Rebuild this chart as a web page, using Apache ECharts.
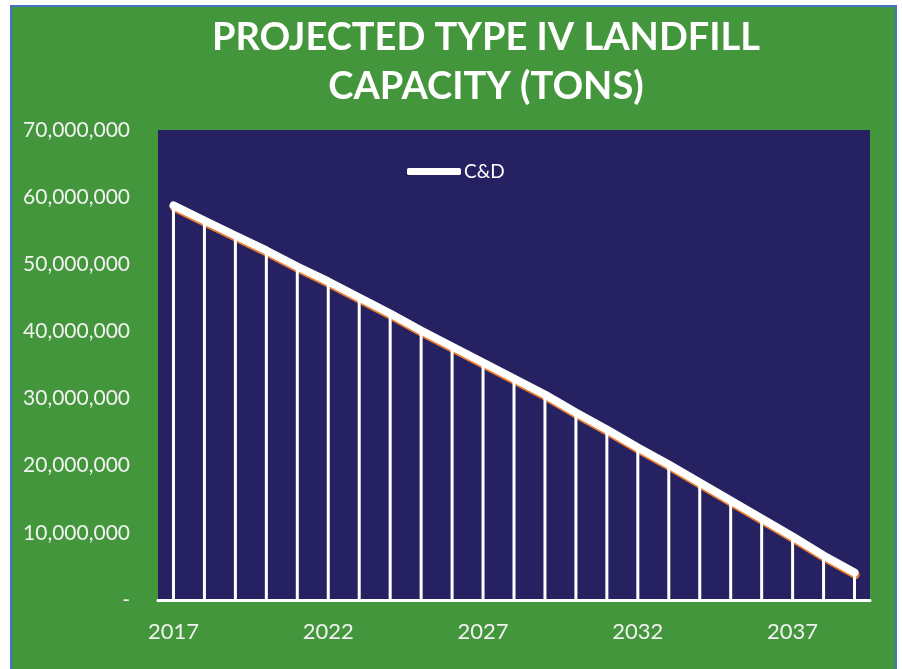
<!DOCTYPE html>
<html>
<head>
<meta charset="utf-8">
<script src="https://cdn.jsdelivr.net/npm/echarts@6/dist/echarts.min.js"></script>
<style>
  html, body { margin: 0; padding: 0; background: #ffffff; }
  .frame {
    position: absolute;
    left: 10px; top: 5px;
    width: 883px; height: 670px;
    background: #43963b;
    border: 2px solid #4472c4;
    border-bottom: none;
  }
  #chart { position: absolute; left: 0; top: 0; width: 902px; height: 669px; }
</style>
</head>
<body>
<div class="frame"></div>
<div id="chart"></div>
<script>
// 年份
const years = ['2017', '2018', '2019', '2020', '2021', '2022', '2023', '2024', '2025', '2026', '2027', '2028',
  '2029', '2030', '2031', '2032', '2033', '2034', '2035', '2036', '2037', '2038', '2039']
// C&D 剩余容量 (tons)
const capacity = [58760000, 56520000, 54290000, 52060000, 49670000, 47440000, 45050000, 42670000,
  40140000, 37760000, 35370000, 32990000, 30610000, 27930000, 25390000, 22710000, 20180000,
  17500000, 14820000, 12140000, 9460000, 6630000, 4100000]
const yTicks = [0, 10000000, 20000000, 30000000, 40000000, 50000000, 60000000, 70000000]

const chart = echarts.init(document.getElementById('chart'))

chart.setOption({
  backgroundColor: 'transparent',
  animation: false,
  title: {
    text: 'PROJECTED TYPE IV LANDFILL\nCAPACITY (TONS)',
    left: 481,
    textAlign: 'center',
    top: 8,
    textStyle: {
      color: '#ffffff',
      fontFamily: 'Lato',
      fontWeight: 'bold',
      fontSize: 38,
      lineHeight: 49
    }
  },
  legend: {
    data: ['C&D'],
    left: 402,
    top: 157,
    icon: 'roundRect',
    itemWidth: 54,
    itemHeight: 7,
    itemGap: 4,
    textStyle: { color: '#ffffff', fontFamily: 'Lato', fontSize: 19, padding: [0, 0, 0, -2] },
    itemStyle: { color: '#ffffff', shadowBlur: 0, shadowOffsetX: 0, shadowOffsetY: 0 }
  },
  grid: {
    left: 158,
    right: 32,
    top: 130,
    bottom: 69,
    show: true,
    backgroundColor: '#262262',
    borderWidth: 0
  },
  xAxis: {
    type: 'category',
    data: years,
    boundaryGap: true,
    axisLine: { lineStyle: { color: '#ffffff', width: 3 } },
    axisTick: { show: false },
    axisLabel: {
      interval: 4,
      color: '#f2f2f2',
      fontFamily: 'Lato',
      fontSize: 22,
      margin: 21
    }
  },
  yAxis: {
    type: 'value',
    min: yTicks[0],
    max: yTicks[yTicks.length - 1],
    interval: 10000000,
    splitLine: { show: false },
    axisLine: { show: false },
    axisTick: { show: false },
    axisLabel: {
      color: '#f2f2f2',
      fontFamily: 'Lato',
      fontSize: 21,
      margin: 28,
      formatter: (v) => (v === 0 ? '-' : v.toLocaleString('en-US'))
    }
  },
  series: [
    {
      name: 'C&D',
      type: 'line',
      data: capacity,
      symbol: 'none',
      z: 2,
      lineStyle: {
        color: '#ffffff',
        width: 8,
        cap: 'round',
        join: 'round',
        shadowColor: '#ed7d31',
        shadowBlur: 0,
        shadowOffsetX: 1,
        shadowOffsetY: 2.5
      },
      itemStyle: { color: '#ffffff' }
    },
    {
      // 垂直线
      name: 'Drop lines',
      type: 'bar',
      data: capacity,
      barWidth: 3,
      z: 3,
      itemStyle: { color: '#ffffff' }
    }
  ]
})
</script>
</body>
</html>
